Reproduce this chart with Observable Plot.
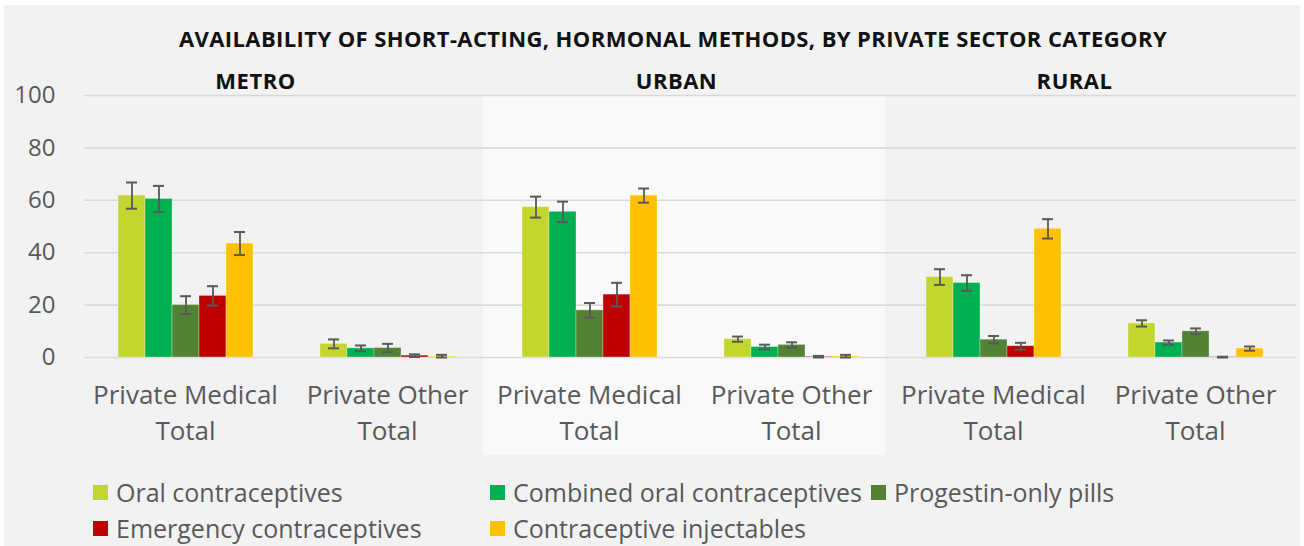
<!DOCTYPE html>
<html><head><meta charset="utf-8">
<script src="https://cdn.jsdelivr.net/npm/d3@7"></script>
<script src="https://cdn.jsdelivr.net/npm/@observablehq/plot@0.6"></script>
<style>
html,body{margin:0;padding:0;background:#fff;}
#chart{position:absolute;left:4px;top:5px;width:1296px;height:541px;background:#f2f2f2;font-family:"Open Sans",sans-serif;overflow:hidden;}
#title{position:absolute;left:0;top:18px;width:1296px;padding-left:42px;box-sizing:border-box;text-align:center;font-weight:bold;font-size:22px;letter-spacing:0.4px;line-height:30px;color:#111;white-space:nowrap;}
#plot{position:absolute;left:0;top:55px;}
#legend{position:absolute;left:0;top:450px;width:1296px;height:91px;}
.item{position:absolute;display:flex;align-items:center;height:36px;font-size:25px;color:#595959;white-space:nowrap;}
.sw{width:15px;height:15px;margin-right:8px;flex:none;}
</style></head>
<body>
<div id="chart">
  <div id="title">AVAILABILITY OF SHORT-ACTING, HORMONAL METHODS, BY PRIVATE SECTOR CATEGORY</div>
  <div id="plot"></div>
  <div id="legend"></div>
</div>
<script>
const methods = ["Oral contraceptives","Combined oral contraceptives","Progestin-only pills","Emergency contraceptives","Contraceptive injectables"];
const colors = ["#c2d62f","#00b050","#548235","#c00000","#ffc000"];
const groups = ["METRO|PM","METRO|PO","URBAN|PM","URBAN|PO","RURAL|PM","RURAL|PO"];
const categoryLabels = ["Private Medical\nTotal","Private Other\nTotal","Private Medical\nTotal","Private Other\nTotal","Private Medical\nTotal","Private Other\nTotal"];
const regions = ["METRO","URBAN","RURAL"];
const yTicks = [0,20,40,60,80,100];

// values per method, in the order of groups
const oral        = [61.8, 5.2, 57.4, 7.0, 30.7, 13.0];
const oralErr     = [5.0, 1.7, 4.0, 1.0, 3.0, 1.2];
const combined    = [60.5, 3.5, 55.6, 4.0, 28.4, 5.7];
const combinedErr = [5.0, 1.1, 3.9, 0.9, 3.0, 0.8];
const progestin   = [20.0, 3.6, 18.0, 4.8, 6.8, 10.0];
const progestinErr= [3.4, 1.6, 2.8, 1.0, 1.4, 1.1];
const emergency   = [23.5, 0.7, 24.0, 0.2, 4.3, 0.1];
const emergencyErr= [3.7, 0.5, 4.5, 0.4, 1.3, 0.2];
const injectables = [43.5, 0.3, 61.8, 0.4, 49.1, 3.4];
const injectablesErr = [4.4, 0.7, 2.7, 0.6, 3.7, 0.8];

const series = [[oral,oralErr],[combined,combinedErr],[progestin,progestinErr],[emergency,emergencyErr],[injectables,injectablesErr]];
const rows = [];
series.forEach(([vals, errs], mi) => {
  groups.forEach((g, gi) => rows.push({group: g, method: methods[mi], value: vals[gi], err: errs[gi]}));
});
const lo = d => Math.max(0, d.value - d.err);
const hi = d => d.value + d.err;

const regionDx = {METRO: -31, URBAN: -14, RURAL: -20};

const plot = Plot.plot({
  width: 1296,
  height: 395,
  marginLeft: 78,
  marginRight: 3,
  marginTop: 35,
  marginBottom: 98,
  style: {background: "transparent", fontFamily: "'Open Sans', sans-serif", overflow: "visible"},
  fx: {domain: groups, padding: 0, axis: null},
  x: {domain: methods, paddingInner: 0, paddingOuter: 1.116, axis: null},
  y: {domain: [0, 100], axis: null},
  color: {domain: methods, range: colors},
  marks: [
    Plot.barY(["URBAN|PM"], {fx: d => d, y1: 0, y2: 100, fill: "#f9f9f9", insetBottom: -98, insetLeft: -5}),
    Plot.barY(["URBAN|PO"], {fx: d => d, y1: 0, y2: 100, fill: "#f9f9f9", insetBottom: -98, insetRight: 7}),
    Plot.gridY(yTicks, {stroke: "#d9d9d9", strokeOpacity: 1, strokeWidth: 1.6}),
    Plot.axisY(yTicks, {tickSize: 0, tickPadding: 29, fontSize: 24, color: "#595959", label: null}),
    Plot.barY(rows, {fx: "group", x: "method", y: "value", fill: "method", stroke: "#ffffff", strokeOpacity: 0.3, strokeWidth: 1}),
    Plot.ruleX(rows, {fx: "group", x: "method", y1: lo, y2: hi, stroke: "#595959", strokeWidth: 1.8}),
    Plot.tickY(rows, {fx: "group", x: "method", y: lo, stroke: "#595959", strokeWidth: 2, insetLeft: 8, insetRight: 8}),
    Plot.tickY(rows, {fx: "group", x: "method", y: hi, stroke: "#595959", strokeWidth: 2, insetLeft: 8, insetRight: 8}),
    Plot.text(groups, {fx: d => d, text: (d, i) => categoryLabels[i], frameAnchor: "bottom", dy: 53, lineAnchor: "middle", fontSize: 26, lineHeight: 36/26, fill: "#595959"}),
    ...regions.map(r => Plot.text([r], {fx: d => d + "|PM", text: d => d, frameAnchor: "top-right", textAnchor: "middle", dx: regionDx[r], dy: -22, fontSize: 22, fontWeight: "bold", fill: "#111", style: "letter-spacing:0.5px"}))
  ]
});
plot.querySelectorAll("text").forEach(t => {
  if (["METRO","URBAN","RURAL"].includes(t.textContent)) t.setAttribute("letter-spacing", "0.5");
});
document.getElementById("plot").appendChild(plot);

const legend = document.getElementById("legend");
const colLeft = [89, 486, 867];
methods.forEach((m, i) => {
  const col = i % 3, row = Math.floor(i / 3);
  const item = document.createElement("div");
  item.className = "item";
  item.style.left = colLeft[col] + "px";
  item.style.top = (19 + row * 36) + "px";
  const sw = document.createElement("span");
  sw.className = "sw";
  sw.style.background = colors[i];
  const t = document.createElement("span");
  t.textContent = m;
  item.appendChild(sw); item.appendChild(t);
  legend.appendChild(item);
});
</script>
</body></html>
